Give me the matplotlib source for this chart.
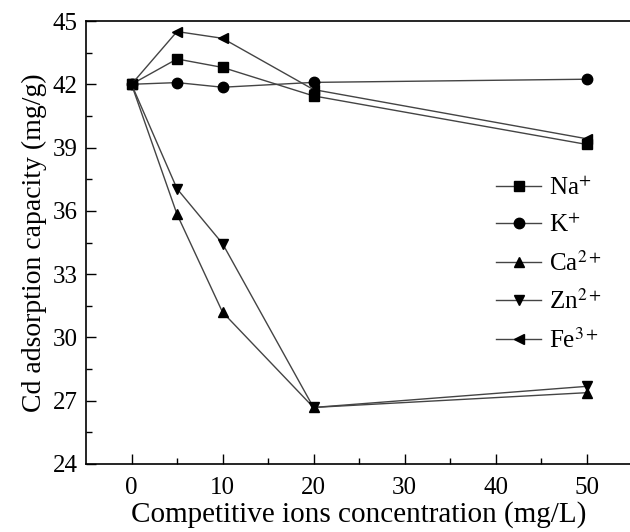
import numpy as np
import matplotlib
matplotlib.use("Agg")
import matplotlib.pyplot as plt

plt.rcParams['font.family'] = ['Liberation Serif', 'DejaVu Serif']
plt.rcParams['mathtext.fontset'] = 'stix'

# competitive ion concentration (mg/L)
conc = [0, 5, 10, 20, 50]

# Cd adsorption capacity (mg/g) for each competing ion
na = [42.0, 43.2, 42.8, 41.45, 39.15]
k  = [42.0, 42.08, 41.86, 42.09, 42.24]
ca = [42.0, 35.84, 31.2, 26.68, 27.38]
zn = [42.0, 37.05, 34.45, 26.68, 27.68]
fe = [42.0, 44.5, 44.18, 41.75, 39.42]

labels = ['Na$^{+}$', 'K$^{+}$', 'Ca$^{2+}$', 'Zn$^{2+}$', 'Fe$^{3+}$']
series = [na, k, ca, zn, fe]
markers = ['s', 'o', '^', 'v', '<']

fig = plt.figure(figsize=(6.3, 5.32), dpi=100)
ax = fig.add_axes([86/630, 68/532, 546/630, 443/532])

for y, lab, m in zip(series, labels, markers):
    ax.plot(conc, y, color='#444444', lw=1.0, marker=m, ms=7.5,
            mfc='black', mec='black', label=lab)

ax.set_xlim(-5, 55)
ax.set_ylim(24, 45)
ax.set_xticks([0, 10, 20, 30, 40, 50])
ax.set_xticks(np.arange(5, 55, 10), minor=True)
ax.set_yticks(np.arange(24, 46, 3))
ax.set_yticks(np.arange(25.5, 45, 3), minor=True)
ax.tick_params(direction='in', which='major', length=7, width=1, labelsize=18)
ax.tick_params(direction='in', which='minor', length=4, width=1)
ax.tick_params(axis='x', pad=9)
ax.tick_params(axis='y', pad=6)
ax.spines['right'].set_visible(False)
for s in ['left', 'bottom', 'top']:
    ax.spines[s].set_linewidth(1.2)

ax.set_xlabel('Competitive ions concentration (mg/L)', fontsize=21, labelpad=2)
ax.set_ylabel('Cd adsorption capacity (mg/g)', fontsize=20, labelpad=4)

ax.legend(loc='upper left', bbox_to_anchor=(0.71, 0.70), frameon=False,
          fontsize=18, handlelength=1.8, labelspacing=0.55, handletextpad=0.3)

fig.savefig('out.png', dpi=100)
